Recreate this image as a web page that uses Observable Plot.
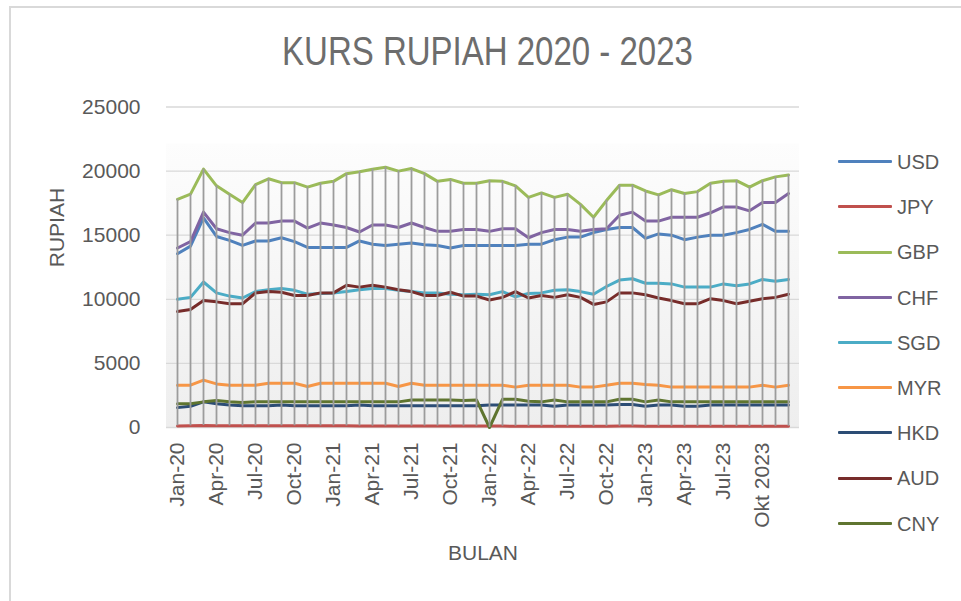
<!DOCTYPE html>
<html><head><meta charset="utf-8">
<script src="https://cdn.jsdelivr.net/npm/d3@7"></script>
<script src="https://cdn.jsdelivr.net/npm/@observablehq/plot@0.6"></script>
<style>
body{margin:0;background:#fff;}
#wrap{position:relative;width:961px;height:601px;overflow:hidden;font-family:"Liberation Sans",Arial,sans-serif;}
#frame{position:absolute;left:9px;top:6px;width:1000px;height:700px;border-left:2px solid #d9d9d9;border-top:2px solid #d9d9d9;}
#title{position:absolute;left:0;width:975px;top:37px;text-align:center;font-family:"Liberation Sans",Arial,sans-serif;font-size:33px;line-height:33px;color:#6d6d6d;white-space:nowrap;transform:scaleY(1.25);transform-origin:50% 28px;}
#chart{position:absolute;left:0;top:0;}
.lg-sw{position:absolute;left:838px;width:54px;height:3px;border-radius:1px;}
.lg-tx{position:absolute;left:897px;font-size:20px;line-height:20px;color:#595959;white-space:nowrap;}
</style></head>
<body>
<div id="wrap">
  <div id="frame"></div>
  <div id="chart"></div>
  <div id="title">KURS RUPIAH 2020 - 2023</div>
  <div id="legend"></div>
</div>
<script>
const months = ["Jan-20","Feb-20","Mar-20","Apr-20","May-20","Jun-20","Jul-20","Aug-20","Sep-20","Oct-20","Nov-20","Dec-20",
"Jan-21","Feb-21","Mar-21","Apr-21","May-21","Jun-21","Jul-21","Aug-21","Sep-21","Oct-21","Nov-21","Dec-21",
"Jan-22","Feb-22","Mar-22","Apr-22","May-22","Jun-22","Jul-22","Aug-22","Sep-22","Oct-22","Nov-22","Dec-22",
"Jan-23","Feb-23","Mar-23","Apr-23","May-23","Jun-23","Jul-23","Aug-23","Sep-23","Oct-23","Nov-23","Dec-23"];
const tickMonths = ["Jan-20","Apr-20","Jul-20","Oct-20","Jan-21","Apr-21","Jul-21","Oct-21","Jan-22","Apr-22","Jul-22","Oct-22","Jan-23","Apr-23","Jul-23","Oct-23"];
const tickLabels = ["Jan-20","Apr-20","Jul-20","Oct-20","Jan-21","Apr-21","Jul-21","Oct-21","Jan-22","Apr-22","Jul-22","Oct-22","Jan-23","Apr-23","Jul-23","Okt 2023"];
const yTicks = [0,5000,10000,15000,20000,25000];

const seriesNames = ["USD","JPY","GBP","CHF","SGD","MYR","HKD","AUD","CNY"];
const seriesColors = ["#4F81BD","#C0504D","#9BBB59","#8064A2","#4BACC6","#F79646","#2C4D75","#772C2A","#5F7530"];

const USD = [13550,14150,16350,14900,14600,14200,14550,14550,14800,14500,14050,14050,
14050,14050,14550,14300,14200,14300,14400,14250,14200,14000,14200,14200,
14200,14200,14200,14300,14300,14650,14850,14850,15200,15450,15600,15600,
14750,15100,15000,14650,14850,15000,15000,15200,15450,15850,15300,15300];
const JPY = [125,127,150,135,130,128,130,130,130,132,130,128,
130,128,125,122,121,120,120,120,120,118,116,115,
110,108,106,100,100,97,96,95,97,100,108,108,
107,105,107,102,100,97,95,92,90,90,92,95];
const GBP = [17800,18200,20150,18850,18200,17550,18950,19400,19100,19100,18750,19050,
19200,19800,19950,20150,20300,20000,20200,19800,19200,19350,19050,19050,
19250,19200,18850,17950,18300,17950,18200,17400,16400,17700,18900,18900,
18450,18150,18550,18250,18400,19050,19200,19250,18750,19250,19550,19700];
const CHF = [14000,14500,16800,15500,15200,15000,15950,15950,16100,16100,15550,15950,
15800,15600,15250,15800,15800,15600,15950,15600,15300,15300,15450,15450,
15300,15500,15500,14800,15200,15450,15450,15300,15450,15500,16550,16800,
16100,16100,16400,16400,16400,16750,17200,17200,16900,17550,17550,18250];
const SGD = [10000,10150,11350,10500,10250,10100,10600,10750,10850,10700,10400,10450,
10500,10600,10750,10850,10850,10700,10600,10500,10500,10400,10350,10400,
10350,10600,10200,10450,10500,10700,10750,10600,10400,11000,11500,11600,
11250,11250,11200,10950,10950,10950,11200,11050,11200,11550,11400,11550];
const MYR = [3300,3300,3700,3400,3300,3300,3300,3450,3450,3450,3200,3450,
3450,3450,3450,3450,3450,3200,3450,3300,3300,3300,3300,3300,
3300,3300,3150,3300,3300,3300,3300,3150,3150,3300,3450,3450,
3350,3300,3150,3150,3150,3150,3150,3150,3150,3300,3150,3300];
const HKD = [1550,1650,2000,1850,1750,1700,1700,1700,1750,1700,1700,1700,
1700,1700,1750,1700,1700,1700,1700,1700,1700,1700,1700,1700,
1750,1750,1750,1750,1750,1650,1750,1750,1750,1750,1800,1800,
1650,1750,1750,1650,1650,1750,1750,1750,1750,1750,1750,1750];
const AUD = [9050,9200,9900,9800,9650,9650,10500,10600,10550,10300,10300,10500,
10500,11100,10950,11100,10950,10750,10600,10300,10300,10550,10250,10250,
9950,10150,10600,10100,10300,10150,10350,10150,9600,9800,10500,10500,
10350,10100,9900,9650,9650,10050,9900,9650,9850,10050,10150,10400];
const CNY = [1850,1850,2000,2100,2000,1950,2000,2000,2000,2000,2000,2000,
2000,2000,2000,2000,2000,2000,2150,2150,2150,2150,2100,2150,
0,2200,2200,2050,2000,2150,2000,2000,2000,2000,2200,2200,
2000,2150,2000,2000,2000,2000,2000,2000,2000,2000,2000,2000];

const seriesValues = [USD,JPY,GBP,CHF,SGD,MYR,HKD,AUD,CNY];
const long = [];
seriesNames.forEach((s, k) => seriesValues[k].forEach((v, i) => long.push({series: s, month: months[i], value: v})));
const ranges = months.map((m, i) => {
  const vals = seriesValues.map(a => a[i]);
  return {month: m, min: d3.min(vals), max: d3.max(vals)};
});
const labelOf = new Map(tickMonths.map((m, i) => [m, tickLabels[i]]));

const defs = () => {
  const s = d3.create("svg:defs");
  const g = s.append("linearGradient").attr("id", "pa").attr("x1", 0).attr("y1", 0).attr("x2", 0).attr("y2", 1);
  g.append("stop").attr("offset", "0%").attr("stop-color", "#fdfdfd");
  g.append("stop").attr("offset", "100%").attr("stop-color", "#eeeeee");
  return s.node();
};

const chart = Plot.plot({
  width: 961, height: 601,
  marginLeft: 166, marginRight: 162, marginTop: 106.5, marginBottom: 174,
  style: {fontFamily: "Liberation Sans, Arial, sans-serif", fontSize: "21px", color: "#595959", background: "transparent", overflow: "visible"},
  x: {type: "point", domain: months, padding: 0.5, axis: null},
  y: {domain: [0, 25000], axis: null},
  color: {domain: seriesNames, range: seriesColors},
  marks: [
    defs,
    Plot.rect([0], {y1: 0, y2: 22100, fill: "url(#pa)"}),
    Plot.gridY({ticks: yTicks, stroke: "#d9d9d9", strokeOpacity: 1, strokeWidth: 1.3}),
    Plot.axisY({ticks: yTicks, tickFormat: d => String(d), tickSize: 0, tickPadding: 26, fontSize: 21, fill: "#595959", label: null}),
    Plot.line(long, {x: "month", y: "value", z: "series", stroke: "series", strokeWidth: 3, strokeLinejoin: "round"}),
    Plot.ruleX(ranges, {x: "month", y1: "min", y2: "max", stroke: "#9c9c9c", strokeWidth: 1.8}),
    Plot.axisX({ticks: tickMonths, tickFormat: d => labelOf.get(d), tickRotate: -90, tickSize: 0, tickPadding: 15, fontSize: 21, fill: "#595959", label: null}),
    Plot.text(["RUPIAH"], {text: d => d, frameAnchor: "left", dx: -109, rotate: -90, fontSize: 21, fill: "#595959"}),
    Plot.text(["BULAN"], {text: d => d, frameAnchor: "bottom", dy: 132, fontSize: 21, fill: "#595959"})
  ]
});
document.getElementById("chart").appendChild(chart);

const lg = document.getElementById("legend");
seriesNames.forEach((s, i) => {
  const cy = 161.7 + i * 45.2;
  const sw = document.createElement("div");
  sw.className = "lg-sw"; sw.style.top = (cy - 1.5) + "px"; sw.style.background = seriesColors[i];
  const tx = document.createElement("div");
  tx.className = "lg-tx"; tx.style.top = (cy - 9.8) + "px"; tx.textContent = s;
  lg.appendChild(sw); lg.appendChild(tx);
});
</script>
</body></html>
